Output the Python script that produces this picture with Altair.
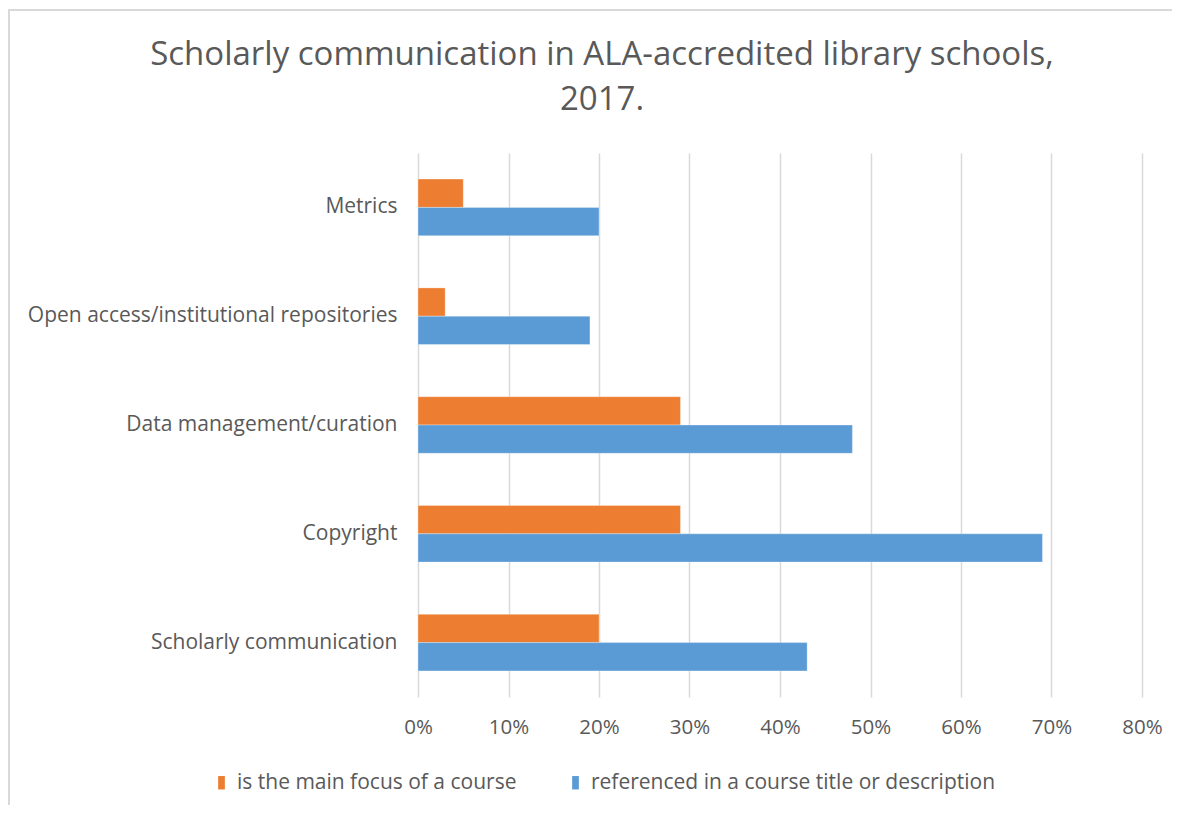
import altair as alt
import pandas as pd

categories = ["Metrics", "Open access/institutional repositories", "Data management/curation",
              "Copyright", "Scholarly communication"]
series = ["is the main focus of a course", "referenced in a course title or description"]
main_focus = [0.05, 0.03, 0.29, 0.29, 0.20]
referenced = [0.20, 0.19, 0.48, 0.69, 0.43]
colors = ["#ED7D31", "#5B9BD5"]
title_lines = ["Scholarly communication in ALA-accredited library schools,", "2017."]

rows = []
for c, a, b in zip(categories, main_focus, referenced):
    rows.append({"cat": c, "series": series[0], "value": a})
    rows.append({"cat": c, "series": series[1], "value": b})
df = pd.DataFrame(rows)

FONT = "Open Sans"
GREY = "#595959"

bars = alt.Chart(df).mark_bar(stroke="white", strokeWidth=0.5, strokeOpacity=0.6).encode(
    y=alt.Y("cat:N", sort=categories,
            scale=alt.Scale(paddingInner=0.48, paddingOuter=0.24),
            axis=alt.Axis(title=None, domain=False, ticks=False, labelPadding=21,
                          labelFontSize=21, labelColor=GREY, labelFont=FONT, grid=False,
                          labelLimit=400)),
    yOffset=alt.YOffset("series:N", sort=series),
    x=alt.X("value:Q",
            scale=alt.Scale(domain=[0, 0.8], nice=False),
            axis=alt.Axis(title=None, format="%", values=[i / 10 for i in range(9)],
                          domain=False, ticks=False, labelPadding=20, labelFontSize=20.5,
                          labelColor=GREY, labelFont=FONT, grid=True, labelFlush=False,
                          gridColor="#d9d9d9", gridWidth=1.5)),
    color=alt.Color("series:N", sort=series,
                    scale=alt.Scale(domain=series, range=colors),
                    legend=alt.Legend(title=None, orient="none", legendX=-207, legendY=619,
                                      direction="horizontal", columns=2, columnPadding=48,
                                      symbolType="M-0.5,-1H0.5V1H-0.5Z",
                                      symbolSize=180, symbolStrokeWidth=0, labelOffset=5,
                                      labelFontSize=21, labelColor=GREY, labelFont=FONT,
                                      labelLimit=500)),
)

title_df = pd.DataFrame({"line": title_lines, "row": [0, 1]})
title = alt.Chart(title_df).mark_text(
    font=FONT, fontSize=33, color=GREY, align="center", baseline="middle"
).encode(
    text="line:N",
    x=alt.value(184),
    y=alt.Y("row:Q", scale=alt.Scale(domain=[0, 1], range=[-98, -53]), axis=None),
)

border_top = alt.Chart(pd.DataFrame({"k": [0]})).mark_rule(color="#d9d9d9", strokeWidth=2).encode(
    x=alt.value(-410), x2=alt.value(762), y=alt.value(-143))
border_left = alt.Chart(pd.DataFrame({"k": [0]})).mark_rule(color="#d9d9d9", strokeWidth=2).encode(
    x=alt.value(-409), y=alt.value(-143), y2=alt.value(660))

chart = alt.layer(bars, title, border_top, border_left).resolve_scale(y="independent").properties(
    width=724,
    height=544,
    padding={"left": 410, "top": 145, "right": 30, "bottom": 108},
    autosize=alt.AutoSizeParams(type="none"),
).configure(background="white").configure_view(stroke=None)

chart.save("out.html", embed_options={"renderer": "svg", "actions": False})
